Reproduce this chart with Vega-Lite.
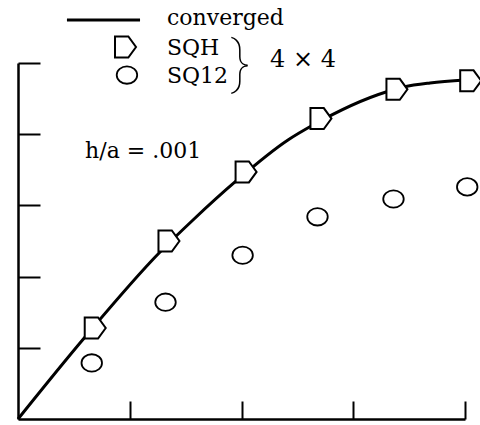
{
  "$schema": "https://vega.github.io/schema/vega-lite/v6.json",
  "width": 447,
  "height": 356,
  "autosize": {"type": "none"},
  "padding": {"left": 18, "top": 63, "right": 15, "bottom": 6},
  "background": "white",
  "config": {
    "view": {"stroke": null},
    "axis": {"labels": false, "title": null, "grid": false, "domainColor": "black", "domainWidth": 2.5, "tickColor": "black", "tickWidth": 2}
  },
  "datasets": {
    "conv": [
      {"x": 0, "y": 0}, {"x": 0.6, "y": 1.152}, {"x": 1.271, "y": 2.346},
      {"x": 1.566, "y": 2.795}, {"x": 1.942, "y": 3.329}, {"x": 2.416, "y": 3.919},
      {"x": 2.64, "y": 4.129}, {"x": 3.293, "y": 4.593}, {"x": 3.454, "y": 4.663},
      {"x": 3.687, "y": 4.719}, {"x": 4.0, "y": 4.76}
    ],
    "sqh": [
      {"x": 0.66, "y": 1.278}, {"x": 1.32, "y": 2.5}, {"x": 2.01, "y": 3.47},
      {"x": 2.68, "y": 4.22}, {"x": 3.36, "y": 4.63}, {"x": 4.02, "y": 4.75}
    ],
    "sq12": [
      {"x": 0.66, "y": 0.787}, {"x": 1.32, "y": 1.64}, {"x": 2.01, "y": 2.3},
      {"x": 2.68, "y": 2.84}, {"x": 3.36, "y": 3.09}, {"x": 4.02, "y": 3.26}
    ],
    "legline": [{"x": 0.438, "y": 5.604}, {"x": 1.092, "y": 5.604}],
    "legsqh": [{"x": 0.931, "y": 5.225}],
    "legsq12": [{"x": 0.975, "y": 4.831}],
    "labels": [
      {"x": 1.333, "y": 5.534, "label": "converged"},
      {"x": 1.333, "y": 5.112, "label": "SQH"},
      {"x": 1.333, "y": 4.719, "label": "SQ12"},
      {"x": 0.6, "y": 3.666, "label": "h/a = .001"}
    ],
    "big": [{"x": 2.255, "y": 4.944, "label": "4 × 4"}],
    "brace": [{"x": 1.99, "y": 4.975, "label": "}"}]
  },
  "encoding": {
    "x": {"field": "x", "type": "quantitative", "scale": {"domain": [0, 4], "nice": false, "zero": false},
          "axis": {"values": [1, 2, 3, 4], "tickSize": -18}},
    "y": {"field": "y", "type": "quantitative", "scale": {"domain": [0, 5], "nice": false, "zero": false},
          "axis": {"values": [1, 2, 3, 4, 5], "tickSize": -22}}
  },
  "layer": [
    {"data": {"name": "conv"}, "mark": {"type": "line", "color": "black", "strokeWidth": 3, "interpolate": "monotone", "clip": false}},
    {"data": {"name": "legline"}, "mark": {"type": "line", "color": "black", "strokeWidth": 3}},
    {"data": {"name": "sqh"}, "mark": {"type": "point", "shape": "M-0.67,-1 L0.6,-1 L1.33,0 L0.6,1 L-0.67,1 Z", "size": 441, "filled": false, "fill": "white", "fillOpacity": 1, "stroke": "black", "strokeWidth": 2, "opacity": 1}},
    {"data": {"name": "legsqh"}, "mark": {"type": "point", "shape": "M-0.67,-1 L0.6,-1 L1.33,0 L0.6,1 L-0.67,1 Z", "size": 441, "filled": false, "fill": "white", "fillOpacity": 1, "stroke": "black", "strokeWidth": 2, "opacity": 1}},
    {"data": {"name": "sq12"}, "mark": {"type": "point", "shape": "M1,0 A1,0.85 0 1,1 -1,0 A1,0.85 0 1,1 1,0 Z", "size": 420, "filled": false, "stroke": "black", "strokeWidth": 1.8, "opacity": 1}},
    {"data": {"name": "legsq12"}, "mark": {"type": "point", "shape": "M1,0 A1,0.85 0 1,1 -1,0 A1,0.85 0 1,1 1,0 Z", "size": 420, "filled": false, "stroke": "black", "strokeWidth": 1.8, "opacity": 1}},
    {"data": {"name": "labels"}, "mark": {"type": "text", "font": "DejaVu Serif", "fontSize": 22, "align": "left", "baseline": "alphabetic", "color": "black"}, "encoding": {"text": {"field": "label"}}},
    {"data": {"name": "big"}, "mark": {"type": "text", "font": "DejaVu Serif", "fontSize": 24, "align": "left", "baseline": "alphabetic", "color": "black"}, "encoding": {"text": {"field": "label"}}},
    {"data": {"name": "brace"}, "mark": {"type": "text", "font": "Roboto", "fontWeight": 100, "fontSize": 58, "align": "center", "baseline": "middle", "color": "black"}, "encoding": {"text": {"field": "label"}}}
  ]
}
